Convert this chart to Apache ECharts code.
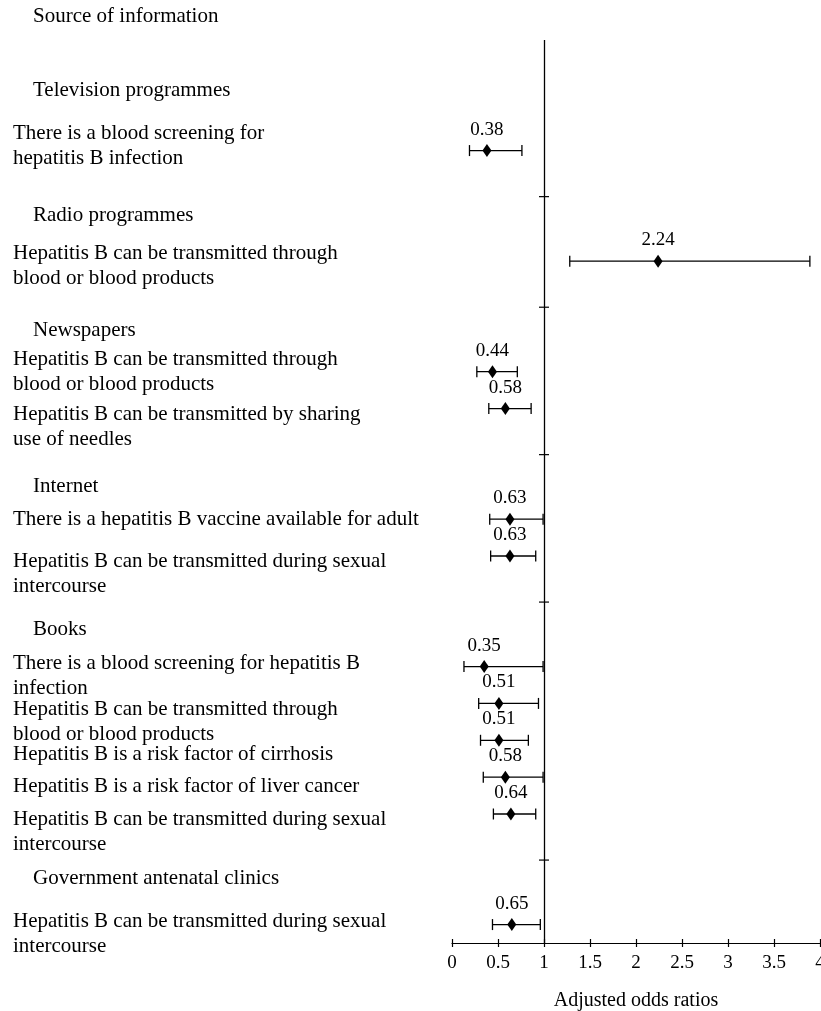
<!DOCTYPE html>
<html>
<head>
<meta charset="utf-8">
<script src="https://cdn.jsdelivr.net/npm/echarts@6/dist/echarts.min.js"></script>
<style>
  html, body { margin: 0; padding: 0; background: #ffffff; }
  #chart { width: 821px; height: 1011px; }
</style>
</head>
<body>
<div id="chart"></div>
<script>
// Sources of information and knowledge items with adjusted odds ratios (95% CI)
const groupNames = [
  'Television programmes',
  'Radio programmes',
  'Newspapers',
  'Internet',
  'Books',
  'Government antenatal clinics'
];
// group index of each item, in display order
const itemGroup = [0, 1, 2, 2, 3, 3, 4, 4, 4, 4, 4, 5];
const itemLabels = [
  'There is a blood screening for\nhepatitis B infection',
  'Hepatitis B can be transmitted through\nblood or blood products',
  'Hepatitis B can be transmitted through\nblood or blood products',
  'Hepatitis B can be transmitted by sharing\nuse of needles',
  'There is a hepatitis B vaccine available for adult',
  'Hepatitis B can be transmitted during sexual\nintercourse',
  'There is a blood screening for hepatitis B\ninfection',
  'Hepatitis B can be transmitted through\nblood or blood products',
  'Hepatitis B is a risk factor of cirrhosis',
  'Hepatitis B is a risk factor of liver cancer',
  'Hepatitis B can be transmitted during sexual\nintercourse',
  'Hepatitis B can be transmitted during sexual\nintercourse'
];
const oddsRatios = [0.38, 2.24, 0.44, 0.58, 0.63, 0.63, 0.35, 0.51, 0.51, 0.58, 0.64, 0.65];
const ciLower    = [0.19, 1.28, 0.27, 0.40, 0.41, 0.42, 0.13, 0.29, 0.31, 0.34, 0.45, 0.44];
const ciUpper    = [0.76, 3.89, 0.71, 0.86, 0.99, 0.91, 0.99, 0.94, 0.83, 0.99, 0.91, 0.96];
const xTickLabels = ['0', '0.5', '1', '1.5', '2', '2.5', '3', '3.5', '4'];
const xAxisTitle = 'Adjusted odds ratios';
const columnTitle = 'Source of information';

// ---- row layout on a half-row grid ----
const FIRST_ROW = 6, ROW_STEP = 2, GROUP_STEP = 6;
const itemRow = [];
itemGroup.forEach((g, i) => {
  if (i === 0) itemRow.push(FIRST_ROW);
  else itemRow.push(itemRow[i - 1] + (g !== itemGroup[i - 1] ? GROUP_STEP : ROW_STEP));
});
const slotCount = itemRow[itemRow.length - 1] + 2;
const groupFirstRow = [];
const groupLastRow = [];
itemGroup.forEach((g, i) => {
  if (groupFirstRow[g] === undefined) groupFirstRow[g] = itemRow[i];
  groupLastRow[g] = itemRow[i];
});
// text placement in the left column, in half-row units
const itemTextDrop = [-0.25, 0.25, 0, 1, 0, 1, 0.5, 1, 0.75, 0.5, 1, 0.5];
const headerTextLead = [3.25, 2.5, 2.25, 1.75, 2, 2.5];

// left-column text entries: [text, slot position, indent]
const columnText = [];
groupNames.forEach((name, g) => columnText.push([name, groupFirstRow[g] - headerTextLead[g], 20]));
itemLabels.forEach((t, i) => columnText.push([t, itemRow[i] + itemTextDrop[i], 0]));

const FONT = '"Liberation Serif", "Times New Roman", serif';
const INK = '#000000';
const TEXT_SIZE = 21;
const TEXT_LEFT = 13;

const chart = echarts.init(document.getElementById('chart'), null, { renderer: 'canvas' });

const xCommon = {
  type: 'value',
  min: 0,
  max: 4,
  interval: 0.5,
  position: 'bottom',
  splitLine: { show: false }
};

chart.setOption({
  animation: false,
  backgroundColor: '#ffffff',
  title: {
    text: columnTitle,
    left: 33,
    top: 6,
    padding: 0,
    textStyle: { fontFamily: FONT, fontSize: TEXT_SIZE, fontWeight: 'normal', color: INK }
  },
  grid: {
    left: 452,
    right: 1,
    top: 40,
    bottom: 68,
    containLabel: false,
    outerBoundsMode: 'none'
  },
  xAxis: [
    Object.assign({}, xCommon, {
      name: xAxisTitle,
      nameLocation: 'middle',
      nameGap: 48,
      nameTextStyle: { fontFamily: FONT, fontSize: 20, color: INK },
      axisLine: { show: true, lineStyle: { color: INK, width: 1.2 } },
      axisTick: { show: true, length: 4, lineStyle: { color: INK, width: 1.2 } },
      axisLabel: {
        margin: 11,
        fontFamily: FONT,
        fontSize: 19,
        color: INK,
        formatter: v => xTickLabels[Math.round(v / 0.5)]
      }
    }),
    Object.assign({}, xCommon, {
      axisLine: { show: false },
      axisTick: { show: true, inside: true, length: 4, lineStyle: { color: INK, width: 1.2 } },
      axisLabel: { show: false }
    })
  ],
  yAxis: {
    type: 'category',
    inverse: true,
    boundaryGap: false,
    data: Array.from({ length: slotCount }, (_, i) => 'slot' + i),
    axisLine: { show: false },
    axisTick: { show: false },
    axisLabel: { show: false },
    splitLine: { show: false }
  },
  series: [
    {
      // left column: source headings and knowledge items
      type: 'custom',
      xAxisIndex: 0,
      yAxisIndex: 0,
      clip: false,
      silent: true,
      z: 1,
      encode: { x: 0, y: 1 },
      data: columnText.map(c => [0, Math.floor(c[1])]),
      renderItem: (params, api) => {
        const entry = columnText[params.dataIndex];
        const y0 = api.coord([0, 0])[1];
        const step = api.coord([0, 1])[1] - y0;
        return {
          type: 'text',
          x: TEXT_LEFT + entry[2],
          y: y0 + step * entry[1],
          style: {
            text: entry[0],
            fill: INK,
            fontFamily: FONT,
            fontSize: TEXT_SIZE,
            lineHeight: 25,
            align: 'left',
            verticalAlign: 'middle'
          }
        };
      }
    },
    {
      // confidence intervals with end caps
      type: 'custom',
      xAxisIndex: 0,
      yAxisIndex: 0,
      z: 2,
      silent: true,
      encode: { x: [0, 1], y: 2 },
      data: itemRow.map((r, i) => [ciLower[i], ciUpper[i], r]),
      renderItem: (params, api) => {
        const row = api.value(2);
        const a = api.coord([api.value(0), row]);
        const b = api.coord([api.value(1), row]);
        const cap = 5.5;
        const st = { stroke: INK, lineWidth: 1.3 };
        return {
          type: 'group',
          children: [
            { type: 'line', shape: { x1: a[0], y1: a[1], x2: b[0], y2: b[1] }, style: st },
            { type: 'line', shape: { x1: a[0], y1: a[1] - cap, x2: a[0], y2: a[1] + cap }, style: st },
            { type: 'line', shape: { x1: b[0], y1: b[1] - cap, x2: b[0], y2: b[1] + cap }, style: st }
          ]
        };
      }
    },
    {
      // short separators on the reference line between source groups
      type: 'custom',
      xAxisIndex: 0,
      yAxisIndex: 0,
      z: 3,
      silent: true,
      encode: { x: 0, y: 1 },
      data: groupLastRow.slice(0, -1).map(r => [1, r + 2]),
      renderItem: (params, api) => {
        const p0 = api.coord([api.value(0), api.value(1)]);
        const p1 = api.coord([api.value(0), api.value(1) + 1]);
        const y = (p0[1] + p1[1]) / 2;
        return {
          type: 'line',
          shape: { x1: p0[0] - 5, y1: y, x2: p0[0] + 5, y2: y },
          style: { stroke: INK, lineWidth: 1.2 }
        };
      }
    },
    {
      // point estimates
      type: 'scatter',
      xAxisIndex: 0,
      yAxisIndex: 0,
      z: 4,
      symbol: 'diamond',
      symbolSize: [9, 13],
      itemStyle: { color: INK, opacity: 1 },
      data: itemRow.map((r, i) => [oddsRatios[i], r]),
      label: {
        show: true,
        position: 'top',
        distance: 5,
        fontFamily: FONT,
        fontSize: 19,
        color: INK,
        formatter: p => oddsRatios[p.dataIndex].toFixed(2)
      },
      markLine: {
        silent: true,
        symbol: ['none', 'none'],
        label: { show: false },
        lineStyle: { color: INK, width: 1.3, type: 'solid', opacity: 1 },
        data: [{ xAxis: 1 }]
      }
    }
  ]
});
</script>
</body>
</html>
